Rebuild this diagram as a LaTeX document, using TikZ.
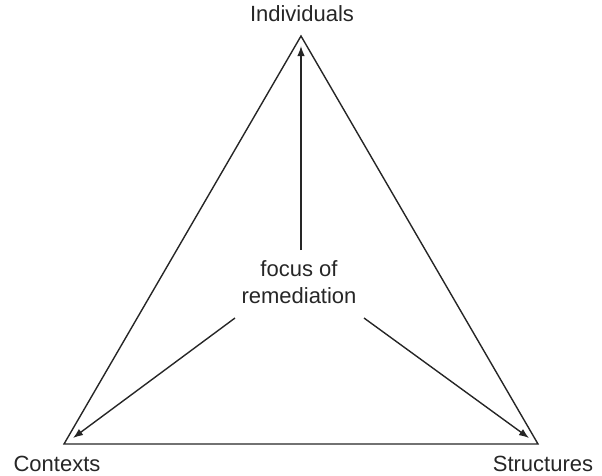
\documentclass[tikz,border=0pt]{standalone}
\usepackage{fontspec}
\setmainfont{Liberation Sans}
\usetikzlibrary{arrows.meta}
\begin{document}
\begin{tikzpicture}[x=1pt,y=-1pt,
  edge/.style={line width=1.4pt,draw=black!85},
  flow/.style={line width=1.4pt,draw=black!85,-{Latex[length=10pt,width=7.5pt]}},
  lbl/.style={font=\fontsize{22}{27}\selectfont,text=black!85,inner sep=0pt,align=center}]
\useasboundingbox (0,0) rectangle (602,475);
% triangle corners
\coordinate (top) at (301,36);
\coordinate (bl) at (64,444);
\coordinate (br) at (538,444);
\draw[edge,line join=miter] (top) -- (bl) -- (br) -- cycle;
% corner labels
\node[lbl] (ind) at (302,14) {Individuals};
\node[lbl] (ctx) at (57,464) {Contexts};
\node[lbl] (str) at (543,464) {Structures};
% centre label and arrows
\node[lbl] (focus) at (299,282) {focus of\\remediation};
\coordinate (tI) at (301,46);
\coordinate (tC) at (73,438);
\coordinate (tS) at (529,438);
\draw[flow] (301,250) -- (tI);
\draw[flow] (235,318) -- (tC);
\draw[flow] (364,318) -- (tS);
\end{tikzpicture}
\end{document}
